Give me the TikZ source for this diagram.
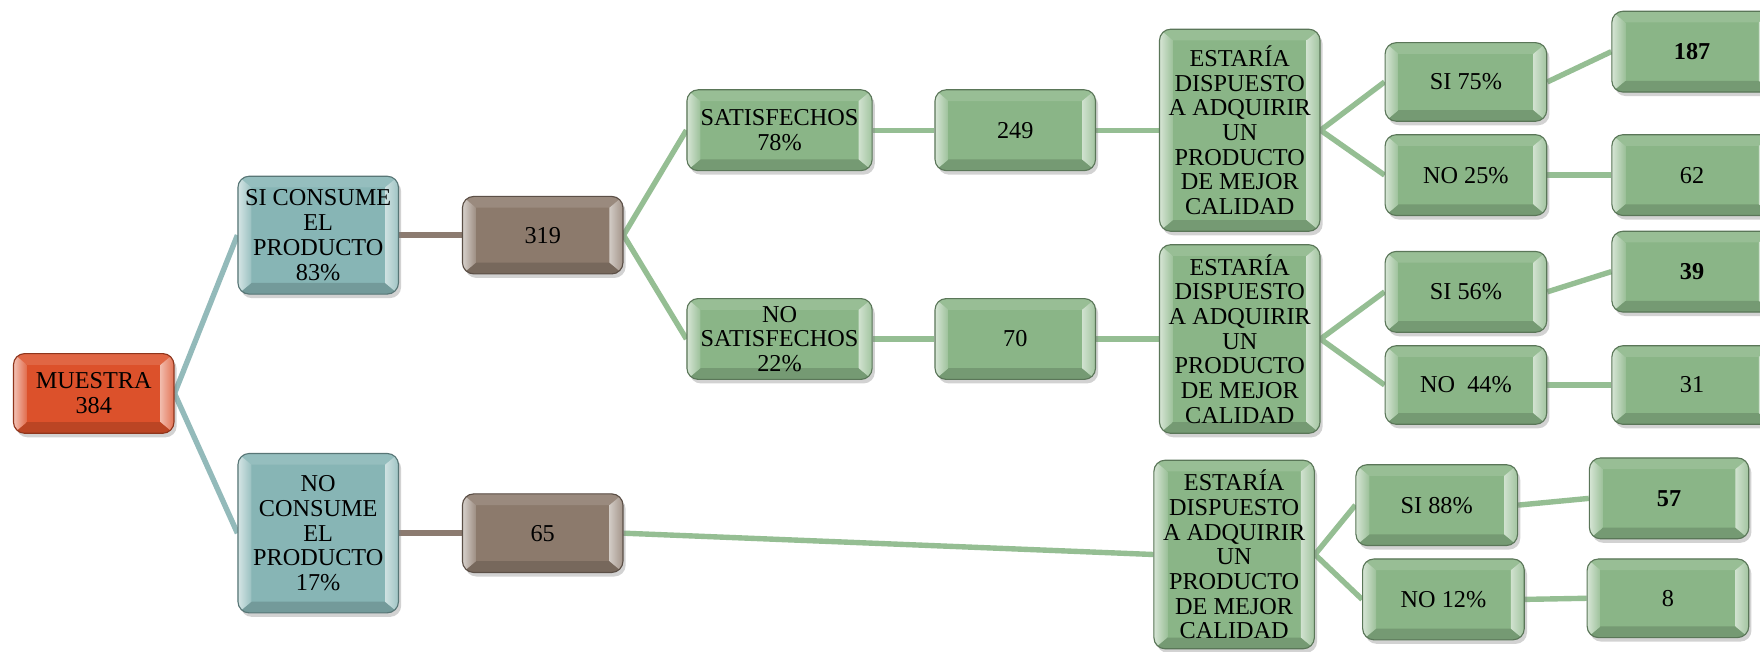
\documentclass[tikz,border=0pt]{standalone}
\usepackage{fontspec}
\setmainfont{Liberation Serif}
\usetikzlibrary{shadows,backgrounds}
\definecolor{orangeC}{HTML}{DC512B}
\definecolor{tealC}{HTML}{87B5B5}
\definecolor{brownC}{HTML}{8C7A6C}
\definecolor{greenC}{HTML}{8AB587}
\definecolor{lineTeal}{HTML}{93BABA}
\definecolor{lineBrown}{HTML}{8C7B70}
\definecolor{lineGreen}{HTML}{95BE93}
\tikzset{
  bev/.style={
    rounded corners=5pt, fill=#1, draw=#1!65!black, line width=0.5pt,
    inner sep=0pt, align=center,
    font=\fontsize{10.8}{11}\selectfont,
    drop shadow={shadow xshift=1.2pt, shadow yshift=-1.8pt, opacity=0.35},
    path picture={
      \fill[sharp corners,#1!88!white]
        (path picture bounding box.north west) -- (path picture bounding box.north east)
        -- ([xshift=-6pt,yshift=-5pt]path picture bounding box.north east)
        -- ([xshift=6pt,yshift=-5pt]path picture bounding box.north west) -- cycle;
      \fill[sharp corners,#1!85!black]
        (path picture bounding box.south west) -- (path picture bounding box.south east)
        -- ([xshift=-6pt,yshift=5pt]path picture bounding box.south east)
        -- ([xshift=6pt,yshift=5pt]path picture bounding box.south west) -- cycle;
      \shade[sharp corners,left color=#1!35!white,right color=#1!85!white]
        (path picture bounding box.north west)
        -- ([xshift=6pt,yshift=-5pt]path picture bounding box.north west)
        -- ([xshift=6pt,yshift=5pt]path picture bounding box.south west)
        -- (path picture bounding box.south west) -- cycle;
      \shade[sharp corners,left color=#1!40!white,right color=#1!80!white]
        (path picture bounding box.north east)
        -- ([xshift=-6pt,yshift=-5pt]path picture bounding box.north east)
        -- ([xshift=-6pt,yshift=5pt]path picture bounding box.south east)
        -- (path picture bounding box.south east) -- cycle;
    }
  },
  box/.style 2 args={minimum width=#1*0.5pt, minimum height=#2*0.5pt},
  conn/.style={line width=2.4pt, draw=#1}
}
\begin{document}
\begin{tikzpicture}[x=0.5pt,y=-0.5pt]
\useasboundingbox (0,0) rectangle (1568,580);
\clip (0,0) rectangle (1568,580);
% level 0-1
\node[bev=orangeC, box={143}{71}] (mu) at (83.5,350.5) {MUESTRA\\384};
\node[bev=tealC, box={143}{105}] (sic) at (283.5,209.5) {SI CONSUME\\EL\\PRODUCTO\\83\%};
\node[bev=tealC, box={143}{142}] (noc) at (283.5,475) {NO\\CONSUME\\EL\\PRODUCTO\\17\%};
\node[bev=brownC, box={143}{69}] (b319) at (483.5,209.5) {319};
\node[bev=brownC, box={143}{70}] (b65) at (483.5,475) {65};
% level satisfaction
\node[bev=greenC, box={165}{72}] (sat) at (694.5,116) {SATISFECHOS\\78\%};
\node[bev=greenC, box={165}{72}] (nsat) at (694.5,302) {NO\\SATISFECHOS\\22\%};
\node[bev=greenC, box={143}{72}] (n249) at (904.5,116) {249};
\node[bev=greenC, box={143}{72}] (n70) at (904.5,302) {70};
% question boxes
\node[bev=greenC, box={143}{180}] (e1) at (1104.5,116) {ESTARÍA\\DISPUESTO\\A ADQUIRIR\\UN\\PRODUCTO\\DE MEJOR\\CALIDAD};
\node[bev=greenC, box={143}{168}] (e2) at (1104.5,302) {ESTARÍA\\DISPUESTO\\A ADQUIRIR\\UN\\PRODUCTO\\DE MEJOR\\CALIDAD};
\node[bev=greenC, box={143}{168}] (e3) at (1099.5,494) {ESTARÍA\\DISPUESTO\\A ADQUIRIR\\UN\\PRODUCTO\\DE MEJOR\\CALIDAD};
% answers
\node[bev=greenC, box={144}{70}] (si75) at (1306,73) {SI 75\%};
\node[bev=greenC, box={144}{72}] (no25) at (1306,156) {NO 25\%};
\node[bev=greenC, box={144}{72}] (si56) at (1306,260) {SI 56\%};
\node[bev=greenC, box={144}{70}] (no44) at (1306,343) {NO\ \ 44\%};
\node[bev=greenC, box={144}{72}] (si88) at (1280,450) {SI 88\%};
\node[bev=greenC, box={144}{72}] (no12) at (1286,534) {NO 12\%};
% values
\node[bev=greenC, box={143}{72}] (v187) at (1507.5,46) {\textbf{187}};
\node[bev=greenC, box={143}{72}] (v62) at (1507.5,156) {62};
\node[bev=greenC, box={143}{72}] (v39) at (1507.5,242) {\textbf{39}};
\node[bev=greenC, box={143}{70}] (v31) at (1507.5,343) {31};
\node[bev=greenC, box={142}{72}] (v57) at (1487,444) {\textbf{57}};
\node[bev=greenC, box={144}{70}] (v8) at (1486,533) {8};
% connectors
\begin{scope}[on background layer]
\fill[white] (0,0) rectangle (1568,580);
\draw[conn=lineTeal] (mu.east) -- (sic.west);
\draw[conn=lineTeal] (mu.east) -- (noc.west);
\draw[conn=lineBrown] (sic.east) -- (b319.west);
\draw[conn=lineBrown] (noc.east) -- (b65.west);
\draw[conn=lineGreen] (b319.east) -- (sat.west);
\draw[conn=lineGreen] (b319.east) -- (nsat.west);
\draw[conn=lineGreen] (sat.east) -- (n249.west);
\draw[conn=lineGreen] (nsat.east) -- (n70.west);
\draw[conn=lineGreen] (n249.east) -- (e1.west);
\draw[conn=lineGreen] (n70.east) -- (e2.west);
\draw[conn=lineGreen] (b65.east) -- (e3.west);
\draw[conn=lineGreen] (e1.east) -- (si75.west);
\draw[conn=lineGreen] (e1.east) -- (no25.west);
\draw[conn=lineGreen] (e2.east) -- (si56.west);
\draw[conn=lineGreen] (e2.east) -- (no44.west);
\draw[conn=lineGreen] (e3.east) -- (si88.west);
\draw[conn=lineGreen] (e3.east) -- (no12.west);
\draw[conn=lineGreen] (si75.east) -- (v187.west);
\draw[conn=lineGreen] (no25.east) -- (v62.west);
\draw[conn=lineGreen] (si56.east) -- (v39.west);
\draw[conn=lineGreen] (no44.east) -- (v31.west);
\draw[conn=lineGreen] (si88.east) -- (v57.west);
\draw[conn=lineGreen] (no12.east) -- (v8.west);
\end{scope}
\end{tikzpicture}
\end{document}
